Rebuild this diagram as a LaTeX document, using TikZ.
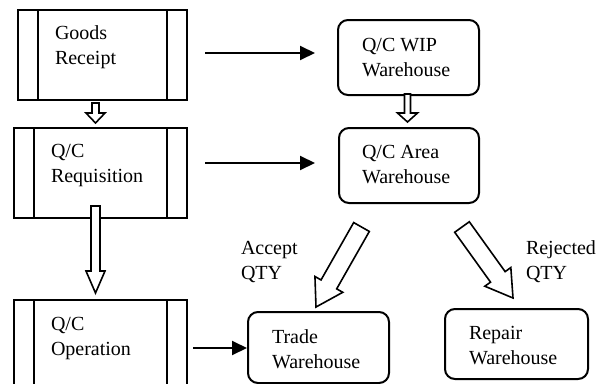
\documentclass[tikz,border=0pt]{standalone}
\usepackage{fontspec}
\setmainfont{Liberation Serif}
\usetikzlibrary{arrows.meta,calc}
\newcommand\fatarrow[5]{% start, tip, shaft half-width, head half-width, head length
  \coordinate (hb) at ($(#2)!#5!(#1)$);
  \draw[fat] ($(#1)!#3!90:(#2)$) -- ($(hb)!#3!90:(#2)$) -- ($(hb)!#4!90:(#2)$) -- (#2)
    -- ($(hb)!#4!-90:(#2)$) -- ($(hb)!#3!-90:(#2)$) -- ($(#1)!#3!-90:(#2)$) -- cycle;
}
\begin{document}
\begin{tikzpicture}[x=1pt,y=-1pt,line width=2pt,
  font=\fontsize{20}{25}\selectfont,
  pbox/.style={draw, rectangle, inner sep=0pt, anchor=north west},
  wbox/.style={draw, rectangle, rounded corners=10pt, inner sep=0pt, anchor=north west},
  txt/.style={inner sep=0pt, anchor=base west, align=left},
  fat/.style={draw, fill=white, line width=1.6pt, line join=miter},
  arr/.style={-{Triangle[length=15pt,width=14pt]}, line width=2pt}]
\useasboundingbox (0,0) rectangle (610,383);
\clip (0,0) rectangle (610,383);
% process boxes
\node[pbox, minimum width=169pt, minimum height=90pt] (gr) at (17,9) {};
\node[pbox, minimum width=173pt, minimum height=90pt] (req) at (13,127) {};
\node[pbox, minimum width=173pt, minimum height=100pt] (op) at (13,299) {};
\foreach \b/\o in {gr/21pt, req/21pt, op/21pt}{
  \draw ([xshift=\o]\b.north west) -- ([xshift=\o]\b.south west);
  \draw ([xshift=-\o]\b.north east) -- ([xshift=-\o]\b.south east);
}
\node[txt] (grt) at (54,64) {Goods\\Receipt};
\node[txt] (reqt) at (50,182) {Q/C\\Requisition};
\node[txt] (opt) at (50,355) {Q/C\\Operation};
% warehouses
\node[wbox, minimum width=141pt, minimum height=75pt] (wip) at (337,19) {};
\node[wbox, minimum width=140pt, minimum height=75pt] (area) at (338,127) {};
\node[wbox, minimum width=141pt, minimum height=71pt] (trade) at (247,311) {};
\node[wbox, minimum width=143pt, minimum height=70pt] (repair) at (444,308) {};
\node[txt] (wipt) at (361,76) {Q/C WIP\\Warehouse};
\node[txt] (areat) at (361,183) {Q/C Area\\Warehouse};
\node[txt] (tradet) at (271,368) {Trade\\Warehouse};
\node[txt] (repairt) at (468,364) {Repair\\Warehouse};
\node[txt] (acc) at (240,279) {Accept\\QTY};
\node[txt] (rej) at (525,279) {Rejected\\QTY};
% thin arrows
\coordinate (a1s) at (205,53); \coordinate (a1e) at (315,53);
\coordinate (a2s) at (205,163); \coordinate (a2e) at (315,163);
\coordinate (a3s) at (193,348);
\draw[arr] (a1s) -- (a1e);
\draw[arr] (a2s) -- (a2e);
\draw[arr] (a3s) -- (trade.west |- a3s);
% block arrows
\coordinate (b1s) at (95.5,103); \coordinate (b1e) at (95.5,123);
\coordinate (b2s) at (95.5,206); \coordinate (b2e) at (95.5,293);
\coordinate (b3s) at (407.5,94); \coordinate (b3e) at (407.5,122);
\coordinate (b4s) at (361.5,227); \coordinate (b4e) at (316,307);
\coordinate (b5s) at (462,227); \coordinate (b5e) at (513,298);
\fatarrow{b1s}{b1e}{3.5pt}{9.5pt}{10pt}
\fatarrow{b2s}{b2e}{4.5pt}{9.5pt}{22pt}
\fatarrow{b3s}{b3e}{3pt}{10pt}{9pt}
\fatarrow{b4s}{b4e}{9pt}{16pt}{26pt}
\fatarrow{b5s}{b5e}{9pt}{16pt}{26pt}
\end{tikzpicture}
\end{document}
